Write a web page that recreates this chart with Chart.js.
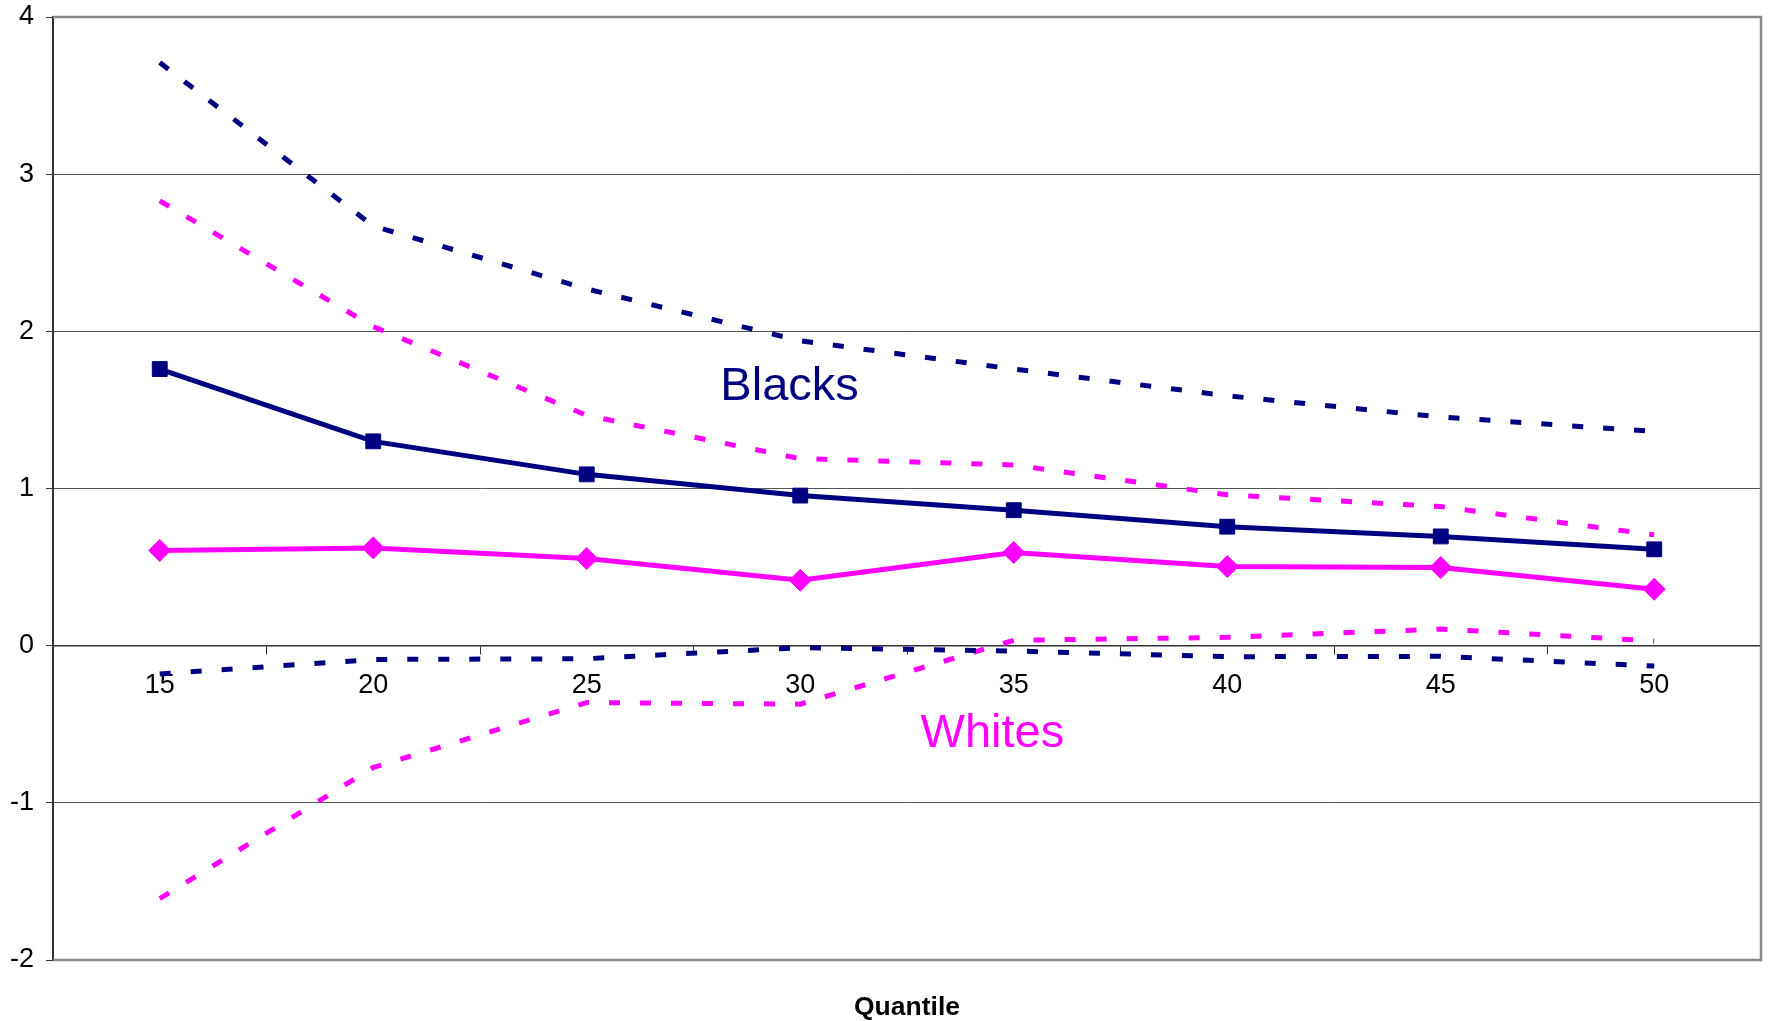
<!DOCTYPE html>
<html>
<head>
<meta charset="utf-8">
<script src="https://cdn.jsdelivr.net/npm/chart.js@4/dist/chart.umd.min.js"></script>
<style>
    html, body { margin: 0; padding: 0; background: #fff; }
    #wrap { width: 1773px; height: 1021px; }
</style>
</head>
<body>
<div id="wrap"><canvas id="chart" width="1773" height="1021"></canvas></div>
<script>
// quantiles on the x axis
const quantiles = ['15', '20', '25', '30', '35', '40', '45', '50'];

// Blacks: estimate and band
const blacksEstimate = [1.76, 1.30, 1.09, 0.955, 0.862, 0.757, 0.695, 0.613];
const blacksUpper = [3.71, 2.67, 2.27, 1.94, 1.76, 1.59, 1.455, 1.363];
const blacksLower = [-0.18, -0.088, -0.083, -0.013, -0.034, -0.07, -0.068, -0.13];

// Whites: estimate and band
const whitesEstimate = [0.606, 0.622, 0.554, 0.416, 0.593, 0.503, 0.497, 0.359];
const whitesUpper = [2.83, 2.03, 1.465, 1.19, 1.15, 0.96, 0.885, 0.705];
const whitesLower = [-1.61, -0.775, -0.362, -0.372, 0.034, 0.053, 0.106, 0.03];

const yTicks = [-2, -1, 0, 1, 2, 3, 4];

const NAVY = '#000080';
const PINK = '#FF00FF';
const FONT = "'Liberation Sans', Arial, sans-serif";

function solid(label, data, color, style, radius) {
    return {
        label: label,
        data: data,
        borderColor: color,
        backgroundColor: color,
        borderWidth: 5,
        pointStyle: style,
        pointRadius: radius,
        pointBorderWidth: 1,
        pointBackgroundColor: color,
        pointBorderColor: color,
        tension: 0
    };
}

function dashed(label, data, color) {
    return {
        label: label,
        data: data,
        borderColor: color,
        borderWidth: 5,
        borderDash: [11, 20],
        borderCapStyle: 'butt',
        pointRadius: 0,
        tension: 0
    };
}

// frame round the plot area (top, right, bottom)
const framePlugin = {
    id: 'frame',
    beforeDatasetsDraw: chart => {
        const a = chart.chartArea;
        const ctx = chart.ctx;
        ctx.save();
        ctx.strokeStyle = '#888888';
        ctx.lineWidth = 2.5;
        ctx.beginPath();
        ctx.moveTo(a.left, a.top);
        ctx.lineTo(a.right, a.top);
        ctx.lineTo(a.right, a.bottom);
        ctx.lineTo(a.left, a.bottom);
        ctx.stroke();
        ctx.restore();
    }
};

// series names written inside the plot, placed in data units
const seriesNames = [
    { text: 'Blacks', color: NAVY, at: [2.95, 1.645] },
    { text: 'Whites', color: PINK, at: [3.90, -0.56] }
];

const namesPlugin = {
    id: 'names',
    afterDatasetsDraw: chart => {
        const ctx = chart.ctx;
        const x = chart.scales.x;
        const y = chart.scales.y;
        ctx.save();
        ctx.font = '47px ' + FONT;
        ctx.textAlign = 'center';
        ctx.textBaseline = 'middle';
        seriesNames.forEach(n => {
            ctx.fillStyle = n.color;
            ctx.fillText(n.text, x.getPixelForValue(n.at[0]), y.getPixelForValue(n.at[1]));
        });
        ctx.restore();
    }
};

new Chart(document.getElementById('chart'), {
    type: 'line',
    data: {
        labels: quantiles,
        datasets: [
            solid('Blacks', blacksEstimate, NAVY, 'rect', 10.5),
            solid('Whites', whitesEstimate, PINK, 'rectRot', 11),
            dashed('Blacks upper', blacksUpper, NAVY),
            dashed('Blacks lower', blacksLower, NAVY),
            dashed('Whites upper', whitesUpper, PINK),
            dashed('Whites lower', whitesLower, PINK)
        ]
    },
    options: {
        responsive: false,
        devicePixelRatio: 1,
        animation: false,
        layout: {
            padding: { top: 17, right: 7, left: 0, bottom: 0 }
        },
        plugins: {
            legend: { display: false },
            tooltip: { enabled: false },
            title: {
                display: true,
                text: 'Quantile',
                position: 'bottom',
                fullSize: false,
                color: '#000',
                font: { family: FONT, size: 26.5, weight: 'bold', lineHeight: 1 },
                padding: { top: 34.5, bottom: 0 }
            }
        },
        scales: {
            x: {
                type: 'category',
                position: { y: 0 },
                offset: true,
                grid: {
                    display: true,
                    drawOnChartArea: false,
                    drawTicks: true,
                    tickLength: 8,
                    tickColor: '#333',
                    offset: true
                },
                border: { display: true, color: '#333', width: 1.5 },
                ticks: {
                    color: '#000',
                    font: { family: FONT, size: 27 },
                    padding: 16,
                    maxRotation: 0,
                    autoSkip: false
                }
            },
            y: {
                min: Math.min(...yTicks),
                max: Math.max(...yTicks),
                position: 'left',
                afterFit: scale => {
                    scale.width = 53;
                    scale.paddingTop = 0;
                    scale.paddingBottom = 0;
                },
                afterBuildTicks: scale => {
                    scale.ticks = yTicks.map(v => ({ value: v }));
                },
                grid: {
                    color: '#555',
                    lineWidth: 1,
                    drawTicks: true,
                    tickLength: 7,
                    tickColor: '#333'
                },
                border: { display: true, color: '#333', width: 2 },
                ticks: {
                    color: '#000',
                    font: { family: FONT, size: 27 },
                    padding: 12
                }
            }
        }
    },
    plugins: [framePlugin, namesPlugin]
});
</script>
</body>
</html>
